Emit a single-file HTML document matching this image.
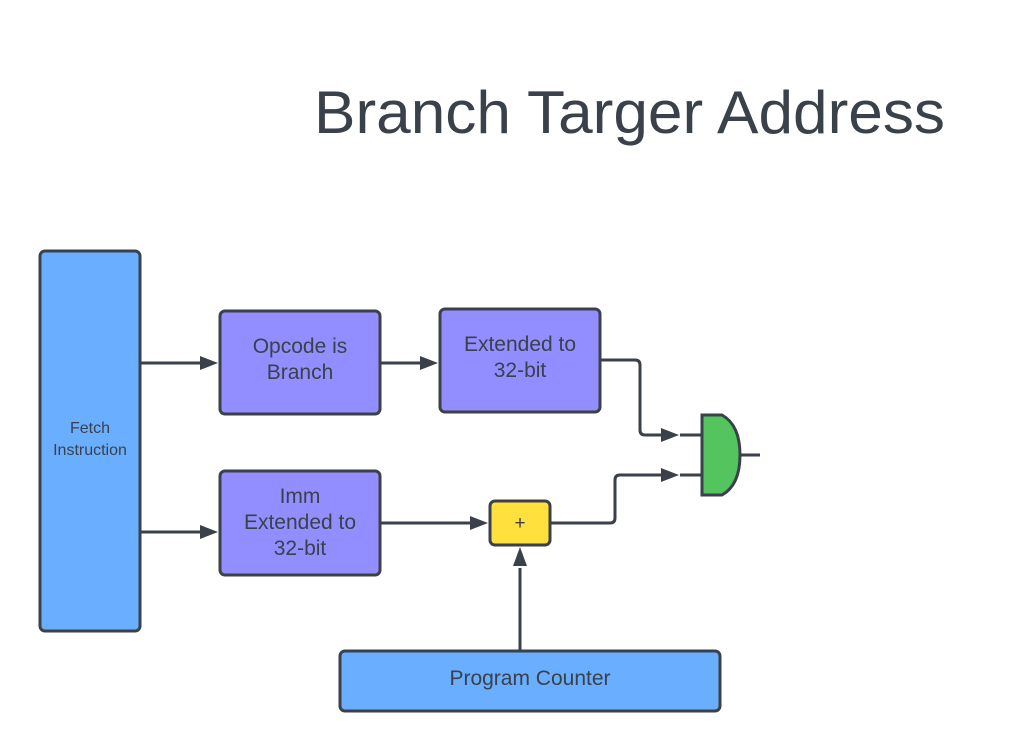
<!DOCTYPE html>
<html><head><style>body{margin:0;background:#fff}</style></head><body>
<svg width="1030" height="751" viewBox="0 0 1030 751" xmlns="http://www.w3.org/2000/svg" font-family="Liberation Sans, sans-serif">
<rect width="1030" height="751" fill="#fff"/>
<text x="314" y="133" font-size="60" fill="#3a414a" textLength="631" lengthAdjust="spacingAndGlyphs">Branch Targer Address</text>
<g stroke="#3a414a" stroke-width="3">
<rect x="40" y="251" width="100" height="380" rx="5" fill="#6aaeff"/>
<rect x="220" y="311" width="160" height="103" rx="5" fill="#928eff"/>
<rect x="440" y="309" width="160" height="103" rx="5" fill="#928eff"/>
<rect x="220" y="471" width="160" height="104" rx="5" fill="#928eff"/>
<rect x="490" y="501" width="60" height="44" rx="5" fill="#ffe03d"/>
<rect x="340" y="651" width="380" height="60" rx="5" fill="#6aaeff"/>
<path d="M702 415 H722 Q740 425 740 455 Q740 485 722 495 H702 Z" fill="#54c45e"/>
</g>
<g stroke="#3a414a" stroke-width="3" fill="none">
<path d="M140 363 H202"/>
<path d="M380 363 H422"/>
<path d="M140 532 H202"/>
<path d="M380 523 H472"/>
<path d="M520 651 V568"/>
<path d="M600 360 H635 Q640 360 640 365 V430 Q640 435 645 435 H662"/>
<path d="M550 523 H610 Q615 523 615 518 V480 Q615 475 620 475 H662"/>
<path d="M680 435 H702 M680 475 H702 M740 455 H760"/>
</g>
<g fill="#3a414a">
<path d="M218 363 L200 356 V370 Z"/>
<path d="M438 363 L420 356 V370 Z"/>
<path d="M218 532 L200 525 V539 Z"/>
<path d="M488 523 L470 516 V530 Z"/>
<path d="M520 547 L513 566 H527 Z"/>
<path d="M679 435 L661 428 V442 Z"/>
<path d="M679 475 L661 468 V482 Z"/>
</g>
<g fill="#3a414a" text-anchor="middle">
<text x="90" y="433" font-size="16">Fetch</text>
<text x="90" y="455" font-size="16">Instruction</text>
<text x="300" y="353" font-size="21">Opcode is</text>
<text x="300" y="379" font-size="21">Branch</text>
<text x="520" y="351" font-size="21">Extended to</text>
<text x="520" y="377" font-size="21">32-bit</text>
<text x="300" y="503" font-size="21">Imm</text>
<text x="300" y="529" font-size="21">Extended to</text>
<text x="300" y="555" font-size="21">32-bit</text>
<text x="520" y="529" font-size="19">+</text>
<text x="530" y="685" font-size="21">Program Counter</text>
</g>
</svg>
</body></html>
